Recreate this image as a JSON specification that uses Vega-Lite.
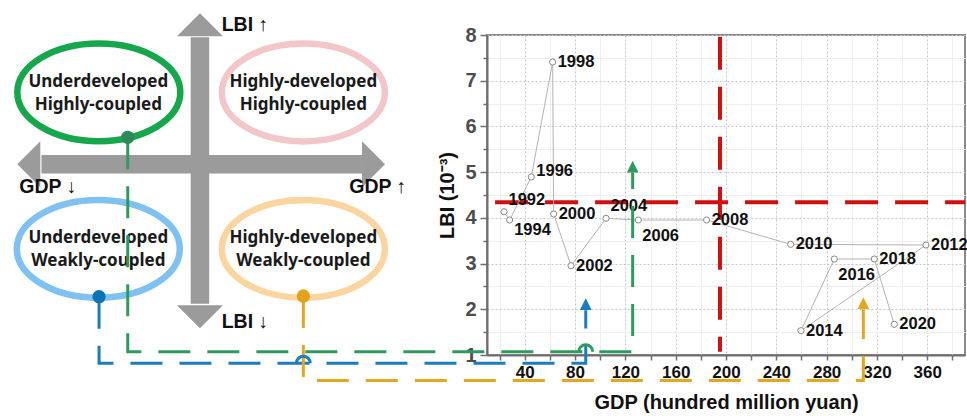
{
  "$schema": "https://vega.github.io/schema/vega-lite/v6.json",
  "width": 478,
  "height": 320,
  "autosize": {"type": "none"},
  "padding": {"left": 487, "top": 35, "right": 2, "bottom": 61},
  "background": "white",
  "config": {"view": {"stroke": "#8a8a8a", "strokeWidth": 2}},
  "datasets": {
    "pts": [
      {"year": "1992", "gdp": 23.5, "lbi": 4.135},
      {"year": "1994", "gdp": 28.0, "lbi": 3.953},
      {"year": "1996", "gdp": 45.2, "lbi": 4.894},
      {"year": "1998", "gdp": 62.2, "lbi": 7.409},
      {"year": "2000", "gdp": 63.0, "lbi": 4.084},
      {"year": "2002", "gdp": 76.8, "lbi": 2.953},
      {"year": "2004", "gdp": 104.6, "lbi": 3.99},
      {"year": "2006", "gdp": 130.3, "lbi": 3.953},
      {"year": "2008", "gdp": 184.6, "lbi": 3.953},
      {"year": "2010", "gdp": 251.4, "lbi": 3.421},
      {"year": "2012", "gdp": 359.0, "lbi": 3.406},
      {"year": "2014", "gdp": 259.6, "lbi": 1.532},
      {"year": "2016", "gdp": 286.1, "lbi": 3.10},
      {"year": "2018", "gdp": 317.9, "lbi": 3.10},
      {"year": "2020", "gdp": 333.8, "lbi": 1.671}
    ],
    "redlines": [
      {"x": 16.4, "y": 4.34, "x2": 390, "y2": 4.34},
      {"x": 195.2, "y": 7.96, "x2": 195.2, "y2": 1.07}
    ],
    "shafts": [
      {"x": -218.2, "y": 7.95, "x2": -218.2, "y2": 2.12},
      {"x": -344.2, "y": 5.171, "x2": -89.4, "y2": 5.171}
    ],
    "heads": [
      {"dir": "up", "x": -218.2, "y": 8.475},
      {"dir": "down", "x": -218.2, "y": 1.584},
      {"dir": "left", "x": -363.4, "y": 5.171},
      {"dir": "right", "x": -71.1, "y": 5.171}
    ],
    "ellipses": [
      {"e": "UH", "x": -298.6, "y": 6.747},
      {"e": "HH", "x": -136.0, "y": 6.742},
      {"e": "UW", "x": -299.0, "y": 3.323},
      {"e": "HW", "x": -136.0, "y": 3.323}
    ],
    "etext": [
      {"t": "Underdeveloped", "x": -299.0, "y": 6.978},
      {"t": "Highly-coupled", "x": -299.0, "y": 6.469},
      {"t": "Highly-developed", "x": -136.0, "y": 6.978},
      {"t": "Highly-coupled", "x": -136.0, "y": 6.469},
      {"t": "Underdeveloped", "x": -299.0, "y": 3.553},
      {"t": "Weakly-coupled", "x": -299.0, "y": 3.056},
      {"t": "Highly-developed", "x": -136.0, "y": 3.553},
      {"t": "Weakly-coupled", "x": -136.0, "y": 3.056}
    ],
    "dtext": [
      {"t": "LBI ↑", "x": -200.9, "y": 8.219},
      {"t": "LBI ↓", "x": -200.9, "y": 1.728},
      {"t": "GDP ↓", "x": -361.8, "y": 4.675},
      {"t": "GDP ↑", "x": -99.5, "y": 4.668}
    ],
    "conn": [
      {"c": "green", "k": 1, "x": -275.6, "y": 5.762},
      {"c": "green", "k": 2, "x": -275.6, "y": 1.072},
      {"c": "green", "k": 3, "x": 125.8, "y": 1.072},
      {"c": "green", "k": 4, "x": 125.8, "y": 4.99},
      {"c": "blue", "k": 1, "x": -298.4, "y": 2.275},
      {"c": "blue", "k": 2, "x": -298.4, "y": 0.818},
      {"c": "blue", "k": 3, "x": 88.5, "y": 0.818},
      {"c": "blue", "k": 4, "x": 88.5, "y": 1.98},
      {"c": "orange", "k": 1, "x": -136.0, "y": 2.291},
      {"c": "orange", "k": 2, "x": -136.0, "y": 0.442},
      {"c": "orange", "k": 3, "x": 309.2, "y": 0.442},
      {"c": "orange", "k": 4, "x": 309.2, "y": 2.0}
    ],
    "dots": [
      {"c": "green", "x": -275.6, "y": 5.762},
      {"c": "blue", "x": -298.4, "y": 2.275},
      {"c": "orange", "x": -136.0, "y": 2.291}
    ],
    "tips": [
      {"c": "green", "x": 125.8, "y": 5.25},
      {"c": "blue", "x": 88.5, "y": 2.24},
      {"c": "orange", "x": 309.2, "y": 2.262}
    ],
    "hops": [
      {"c": "blue", "x": -136.0, "y": 0.818},
      {"c": "green", "x": 88.5, "y": 1.072}
    ]
  },
  "layer": [
    {
      "data": {"name": "redlines"},
      "mark": {"type": "rule", "color": "#d20f0f", "strokeWidth": 4, "strokeDash": [33, 17], "clip": false},
      "encoding": {
        "x": {"field": "x", "type": "quantitative", "scale": {"domain": [10, 390], "nice": false, "zero": false},
          "axis": {"orient": "bottom", "values": [20, 60, 100, 140, 180, 220, 260, 300, 340, 380], "labels": false, "domain": false, "ticks": true, "tickSize": 5, "tickColor": "#6e6e6e", "tickWidth": 1.5, "grid": true, "gridColor": "#eeeeee", "gridWidth": 1, "title": null}},
        "x2": {"field": "x2"},
        "y": {"field": "y", "type": "quantitative", "scale": {"domain": [1, 8], "nice": false, "zero": false},
          "axis": {"orient": "left", "values": [1.5, 2.5, 3.5, 4.5, 5.5, 6.5, 7.5], "labels": false, "domain": false, "ticks": true, "tickSize": 4, "tickColor": "#6e6e6e", "tickWidth": 1.5, "grid": true, "gridColor": "#eeeeee", "gridWidth": 1, "title": null}},
        "y2": {"field": "y2"}
      }
    },
    {
      "data": {"name": "pts"},
      "mark": {"type": "line", "color": "#b3b3b3", "strokeWidth": 1, "clip": false},
      "encoding": {
        "x": {"field": "gdp", "type": "quantitative", "scale": {"domain": [10, 390], "nice": false, "zero": false},
          "axis": {"orient": "bottom", "values": [40, 80, 120, 160, 200, 240, 280, 320, 360], "tickSize": 5, "tickColor": "#6e6e6e", "tickWidth": 1.5, "domainColor": "#6e6e6e", "domainWidth": 2, "grid": true, "gridColor": "#c6c6c6", "gridDash": [2, 2], "gridWidth": 1, "labelFont": "Liberation Sans", "labelFontWeight": "bold", "labelFontSize": 17, "labelColor": "#111111", "labelPadding": 4, "labelFlush": false, "labelOverlap": false, "title": "GDP (hundred million yuan)", "titleFont": "Liberation Sans", "titleFontSize": 20, "titleFontWeight": "bold", "titleColor": "#111111", "titlePadding": 12}},
        "y": {"field": "lbi", "type": "quantitative", "scale": {"domain": [1, 8], "nice": false, "zero": false},
          "axis": {"orient": "left", "values": [1, 2, 3, 4, 5, 6, 7, 8], "tickSize": 7, "tickColor": "#6e6e6e", "tickWidth": 1.5, "domainColor": "#6e6e6e", "domainWidth": 2, "grid": true, "gridColor": "#c6c6c6", "gridDash": [2, 2], "gridWidth": 1, "labelFont": "Liberation Sans", "labelFontWeight": "bold", "labelFontSize": 20, "labelColor": "#4d4d4d", "labelPadding": 4, "labelFlush": false, "labelOverlap": false, "title": "LBI (10⁻³)", "titleFont": "Liberation Sans", "titleFontSize": 20, "titleFontWeight": "bold", "titleColor": "#111111", "titlePadding": 7}},
        "order": {"field": "year", "type": "ordinal"}
      }
    },
    {
      "data": {"name": "pts"},
      "mark": {"type": "point", "shape": "circle", "filled": true, "fill": "white", "stroke": "#8a8a8a", "strokeWidth": 1, "size": 38, "opacity": 1, "clip": false},
      "encoding": {
        "x": {"field": "gdp", "type": "quantitative", "scale": {"domain": [10, 390], "nice": false, "zero": false}, "axis": null},
        "y": {"field": "lbi", "type": "quantitative", "scale": {"domain": [1, 8], "nice": false, "zero": false}, "axis": null}
      }
    },
    {
      "data": {"name": "pts"},
      "transform": [{"filter": {"field": "year", "oneOf": ["1998", "2000", "2002", "2008", "2010", "2012", "2014", "2018", "2020"]}}],
      "mark": {"type": "text", "align": "left", "baseline": "middle", "dx": 5, "dy": 0, "font": "Liberation Sans", "fontWeight": "bold", "fontSize": 16.5, "color": "#111111", "clip": false},
      "encoding": {
        "x": {"field": "gdp", "type": "quantitative", "scale": {"domain": [10, 390], "nice": false, "zero": false}, "axis": null},
        "y": {"field": "lbi", "type": "quantitative", "scale": {"domain": [1, 8], "nice": false, "zero": false}, "axis": null},
        "text": {"field": "year", "type": "nominal"}
      }
    },
    {
      "data": {"name": "pts"},
      "transform": [{"filter": {"field": "year", "oneOf": ["1992", "2004"]}}],
      "mark": {"type": "text", "align": "left", "baseline": "middle", "dx": 4.5, "dy": -12, "font": "Liberation Sans", "fontWeight": "bold", "fontSize": 16.5, "color": "#111111", "clip": false},
      "encoding": {
        "x": {"field": "gdp", "type": "quantitative", "scale": {"domain": [10, 390], "nice": false, "zero": false}, "axis": null},
        "y": {"field": "lbi", "type": "quantitative", "scale": {"domain": [1, 8], "nice": false, "zero": false}, "axis": null},
        "text": {"field": "year", "type": "nominal"}
      }
    },
    {
      "data": {"name": "pts"},
      "transform": [{"filter": {"field": "year", "oneOf": ["1996"]}}],
      "mark": {"type": "text", "align": "left", "baseline": "middle", "dx": 5, "dy": -6, "font": "Liberation Sans", "fontWeight": "bold", "fontSize": 16.5, "color": "#111111", "clip": false},
      "encoding": {
        "x": {"field": "gdp", "type": "quantitative", "scale": {"domain": [10, 390], "nice": false, "zero": false}, "axis": null},
        "y": {"field": "lbi", "type": "quantitative", "scale": {"domain": [1, 8], "nice": false, "zero": false}, "axis": null},
        "text": {"field": "year", "type": "nominal"}
      }
    },
    {
      "data": {"name": "pts"},
      "transform": [{"filter": {"field": "year", "oneOf": ["1994"]}}],
      "mark": {"type": "text", "align": "left", "baseline": "middle", "dx": 4.5, "dy": 9.5, "font": "Liberation Sans", "fontWeight": "bold", "fontSize": 16.5, "color": "#111111", "clip": false},
      "encoding": {
        "x": {"field": "gdp", "type": "quantitative", "scale": {"domain": [10, 390], "nice": false, "zero": false}, "axis": null},
        "y": {"field": "lbi", "type": "quantitative", "scale": {"domain": [1, 8], "nice": false, "zero": false}, "axis": null},
        "text": {"field": "year", "type": "nominal"}
      }
    },
    {
      "data": {"name": "pts"},
      "transform": [{"filter": {"field": "year", "oneOf": ["2006", "2016"]}}],
      "mark": {"type": "text", "align": "left", "baseline": "middle", "dx": 4, "dy": 15.5, "font": "Liberation Sans", "fontWeight": "bold", "fontSize": 16.5, "color": "#111111", "clip": false},
      "encoding": {
        "x": {"field": "gdp", "type": "quantitative", "scale": {"domain": [10, 390], "nice": false, "zero": false}, "axis": null},
        "y": {"field": "lbi", "type": "quantitative", "scale": {"domain": [1, 8], "nice": false, "zero": false}, "axis": null},
        "text": {"field": "year", "type": "nominal"}
      }
    },
    {
      "data": {"name": "shafts"},
      "mark": {"type": "rule", "color": "#9b9b9b", "strokeWidth": 18.5, "strokeCap": "butt", "clip": false},
      "encoding": {
        "x": {"field": "x", "type": "quantitative", "scale": {"domain": [10, 390], "nice": false, "zero": false}, "axis": null},
        "x2": {"field": "x2"},
        "y": {"field": "y", "type": "quantitative", "scale": {"domain": [1, 8], "nice": false, "zero": false}, "axis": null},
        "y2": {"field": "y2"}
      }
    },
    {
      "data": {"name": "heads"},
      "mark": {"type": "point", "filled": true, "color": "#9b9b9b", "strokeWidth": 0, "size": 2116, "opacity": 1, "clip": false},
      "encoding": {
        "x": {"field": "x", "type": "quantitative", "scale": {"domain": [10, 390], "nice": false, "zero": false}, "axis": null},
        "y": {"field": "y", "type": "quantitative", "scale": {"domain": [1, 8], "nice": false, "zero": false}, "axis": null},
        "shape": {"field": "dir", "type": "nominal", "legend": null,
          "scale": {"domain": ["up", "down", "left", "right"], "range": ["M-1,1L1,1L0,0Z", "M-1,-1L1,-1L0,0Z", "M1,-1L1,1L0,0Z", "M-1,-1L-1,1L0,0Z"]}}
      }
    },
    {
      "data": {"name": "ellipses"},
      "mark": {"type": "point", "filled": false, "strokeWidth": 6.5, "size": 26569, "opacity": 1, "clip": false,
        "shape": "M-1,0C-1,-0.331 -0.552,-0.6 0,-0.6C0.552,-0.6 1,-0.331 1,0C1,0.331 0.552,0.6 0,0.6C-0.552,0.6 -1,0.331 -1,0Z"},
      "encoding": {
        "x": {"field": "x", "type": "quantitative", "scale": {"domain": [10, 390], "nice": false, "zero": false}, "axis": null},
        "y": {"field": "y", "type": "quantitative", "scale": {"domain": [1, 8], "nice": false, "zero": false}, "axis": null},
        "stroke": {"field": "e", "type": "nominal", "legend": null,
          "scale": {"domain": ["UH", "HH", "UW", "HW"], "range": ["#16a74d", "#f3c6ca", "#7fc1f1", "#fbd59f"]}}
      }
    },
    {
      "data": {"name": "etext"},
      "mark": {"type": "text", "align": "center", "baseline": "middle", "font": "Noto Sans", "fontWeight": "bold", "fontSize": 17, "color": "#1a1a1a", "clip": false},
      "encoding": {
        "x": {"field": "x", "type": "quantitative", "scale": {"domain": [10, 390], "nice": false, "zero": false}, "axis": null},
        "y": {"field": "y", "type": "quantitative", "scale": {"domain": [1, 8], "nice": false, "zero": false}, "axis": null},
        "text": {"field": "t", "type": "nominal"}
      }
    },
    {
      "data": {"name": "dtext"},
      "mark": {"type": "text", "align": "left", "baseline": "middle", "font": "Liberation Sans", "fontWeight": "bold", "fontSize": 19.5, "color": "#111111", "clip": false},
      "encoding": {
        "x": {"field": "x", "type": "quantitative", "scale": {"domain": [10, 390], "nice": false, "zero": false}, "axis": null},
        "y": {"field": "y", "type": "quantitative", "scale": {"domain": [1, 8], "nice": false, "zero": false}, "axis": null},
        "text": {"field": "t", "type": "nominal"}
      }
    },
    {
      "data": {"name": "conn"},
      "mark": {"type": "line", "strokeWidth": 3, "strokeDash": [32, 17], "strokeJoin": "miter", "clip": false},
      "encoding": {
        "x": {"field": "x", "type": "quantitative", "scale": {"domain": [10, 390], "nice": false, "zero": false}, "axis": null},
        "y": {"field": "y", "type": "quantitative", "scale": {"domain": [1, 8], "nice": false, "zero": false}, "axis": null},
        "color": {"field": "c", "type": "nominal", "legend": null,
          "scale": {"domain": ["green", "blue", "orange"], "range": ["#2e9a5d", "#1b7dbd", "#e5a722"]}},
        "order": {"field": "k", "type": "quantitative"}
      }
    },
    {
      "data": {"name": "hops"},
      "mark": {"type": "point", "filled": false, "strokeWidth": 3, "size": 196, "opacity": 1, "clip": false,
        "shape": "M-1,0C-1,-0.552 -0.552,-1 0,-1C0.552,-1 1,-0.552 1,0"},
      "encoding": {
        "x": {"field": "x", "type": "quantitative", "scale": {"domain": [10, 390], "nice": false, "zero": false}, "axis": null},
        "y": {"field": "y", "type": "quantitative", "scale": {"domain": [1, 8], "nice": false, "zero": false}, "axis": null},
        "stroke": {"field": "c", "type": "nominal", "legend": null,
          "scale": {"domain": ["green", "blue", "orange"], "range": ["#2e9a5d", "#1b7dbd", "#e5a722"]}}
      }
    },
    {
      "data": {"name": "dots"},
      "mark": {"type": "point", "shape": "circle", "filled": true, "strokeWidth": 0, "size": 177, "opacity": 1, "clip": false},
      "encoding": {
        "x": {"field": "x", "type": "quantitative", "scale": {"domain": [10, 390], "nice": false, "zero": false}, "axis": null},
        "y": {"field": "y", "type": "quantitative", "scale": {"domain": [1, 8], "nice": false, "zero": false}, "axis": null},
        "fill": {"field": "c", "type": "nominal", "legend": null,
          "scale": {"domain": ["green", "blue", "orange"], "range": ["#2b8a57", "#0b74b5", "#e2a31c"]}}
      }
    },
    {
      "data": {"name": "tips"},
      "mark": {"type": "point", "filled": true, "strokeWidth": 0, "size": 137, "opacity": 1, "clip": false,
        "shape": "M-1,2L1,2L0,0Z"},
      "encoding": {
        "x": {"field": "x", "type": "quantitative", "scale": {"domain": [10, 390], "nice": false, "zero": false}, "axis": null},
        "y": {"field": "y", "type": "quantitative", "scale": {"domain": [1, 8], "nice": false, "zero": false}, "axis": null},
        "fill": {"field": "c", "type": "nominal", "legend": null,
          "scale": {"domain": ["green", "blue", "orange"], "range": ["#2e9a5d", "#1b7dbd", "#e5a722"]}}
      }
    }
  ],
  "resolve": {
    "scale": {"color": "independent", "stroke": "independent", "fill": "independent", "shape": "independent"},
    "axis": {"x": "independent", "y": "independent"}
  }
}
